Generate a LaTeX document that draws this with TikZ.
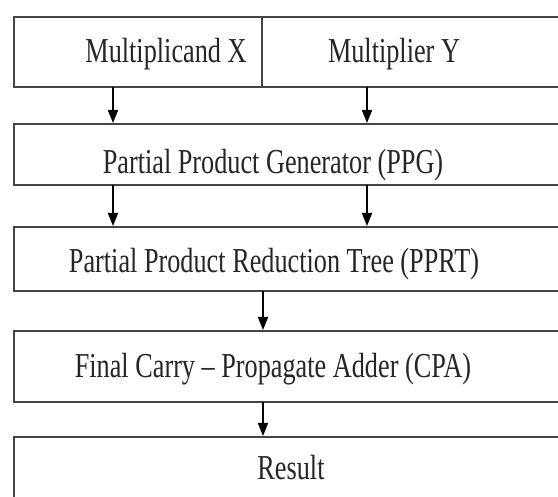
\documentclass[tikz,border=0pt]{standalone}
\usepackage{fontspec}
\setmainfont{Liberation Serif}
\usetikzlibrary{arrows.meta}
\definecolor{boxline}{HTML}{454545}
\definecolor{txt}{HTML}{262626}
\newcommand{\tx}[1]{\scalebox{0.75}[1]{#1}}
\tikzset{
  box/.style={draw=boxline, line width=2.3pt, rectangle, inner sep=0pt, outer sep=0pt},
  lbl/.style={anchor=base, inner sep=0pt, text=txt, font=\fontsize{35}{40}\selectfont},
  arr/.style={draw=black, line width=1.7pt, -{Triangle[length=13pt,width=10pt]}, shorten >=1pt}
}
\begin{document}
\begin{tikzpicture}[x=1pt,y=-1pt]
\useasboundingbox (0,0) rectangle (558,497);
\clip (0,0) rectangle (558,497);
\fill[white] (0,0) rectangle (558,497);
% boxes (x from 14 to 562)
\node[box, minimum width=248pt, minimum height=70pt] (mx) at (138,52) {};
\node[box, minimum width=300pt, minimum height=70pt] (my) at (412,52) {};
\node[box, minimum width=548pt, minimum height=61pt] (ppg) at (288,154.5) {};
\node[box, minimum width=548pt, minimum height=64pt] (pprt) at (288,259) {};
\node[box, minimum width=548pt, minimum height=71pt] (cpa) at (288,366.5) {};
\node[box, minimum width=548pt, minimum height=68pt] (res) at (288,471) {};
% texts
\node[lbl] (tmx) at (166,63) {\tx{Multiplicand X}};
\node[lbl] (tmy) at (394,63) {\tx{Multiplier Y}};
\node[lbl] (tppg) at (273,174) {\tx{Partial Product Generator (PPG)}};
\node[lbl] (tpprt) at (274,273) {\tx{Partial Product Reduction Tree (PPRT)}};
\node[lbl] (tcpa) at (273,378) {\tx{Final Carry -- Propagate Adder (CPA)}};
\node[lbl] (tres) at (291,480) {\tx{Result}};
% arrow columns
\coordinate (cl) at (113,0);
\coordinate (cr) at (367,0);
\coordinate (cm) at (263,0);
\draw[arr] (mx.south -| cl) -- (ppg.north -| cl);
\draw[arr] (my.south -| cr) -- (ppg.north -| cr);
\draw[arr] (ppg.south -| cl) -- (pprt.north -| cl);
\draw[arr] (ppg.south -| cr) -- (pprt.north -| cr);
\draw[arr] (pprt.south -| cm) -- (cpa.north -| cm);
\draw[arr] (cpa.south -| cm) -- (res.north -| cm);
\end{tikzpicture}
\end{document}
